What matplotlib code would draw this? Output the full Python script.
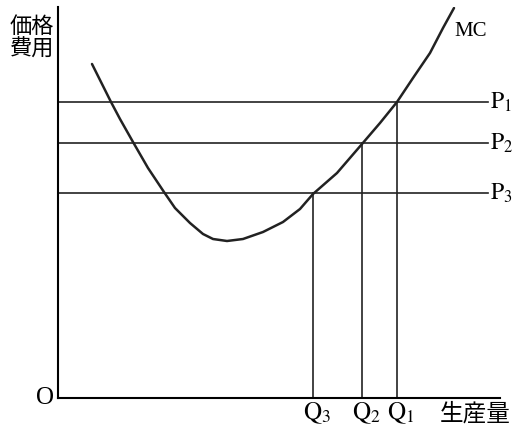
import matplotlib.pyplot as plt

plt.rcParams['mathtext.fontset'] = 'stix'

# MC curve points (quantity, cost)
mc_q = [34, 53, 62, 75, 90, 106, 117, 132, 145, 155, 169, 185, 205, 225, 242, 255,
        279, 304, 322, 339, 355, 372, 385, 396]
mc_c = [334, 296, 279, 256, 230, 206, 190, 175, 164, 159, 157, 159, 166, 176, 189, 204,
        225, 254, 275, 296, 320, 345, 370, 390]

prices = [296, 255, 205]
price_labels = [r'$\mathrm{P}_1$', r'$\mathrm{P}_2$', r'$\mathrm{P}_3$']
quantities = [339, 304, 255]
qty_labels = [r'$\mathrm{Q}_1$', r'$\mathrm{Q}_2$', r'$\mathrm{Q}_3$']

line_end = 430

fig = plt.figure(figsize=(5.15, 4.32), dpi=100)
ax = fig.add_axes([58 / 515, 34 / 432, 442 / 515, 391 / 432])
ax.set_xlim(0, 442)
ax.set_ylim(0, 391)
for s in ['top', 'right']:
    ax.spines[s].set_visible(False)
for s in ['left', 'bottom']:
    ax.spines[s].set_linewidth(1.5)
ax.set_xticks([])
ax.set_yticks([])

ax.plot(mc_q, mc_c, color='#222222', linewidth=1.8, solid_capstyle='round',
        solid_joinstyle='round')

for p, lab in zip(prices, price_labels):
    ax.plot([0, line_end], [p, p], color='#222222', linewidth=1.2)
    ax.text(line_end + 2, p, lab, fontsize=17, va='center', ha='left', clip_on=False)

for q, p, lab in zip(quantities, prices, qty_labels):
    ax.plot([q, q], [0, p], color='#222222', linewidth=1.2)
    ax.text(q + 4, -15, lab, fontsize=18, va='center', ha='center', clip_on=False)

ax.text(396, 367, 'MC', fontsize=15, family='Liberation Serif', va='center', ha='left')
ax.text(-13, 0, 'O', fontsize=18, family='Liberation Serif', va='center', ha='center', clip_on=False)
ax.text(417, -16, '生産量', fontsize=17, family=['Noto Sans CJK JP', 'DejaVu Sans'],
        va='center', ha='center', clip_on=False)
ax.text(-26, 360, '価格\n費用', fontsize=16, family=['Noto Sans CJK JP', 'DejaVu Sans'],
        va='center', ha='center', linespacing=1.0, clip_on=False)

fig.savefig('out.png', dpi=100)
